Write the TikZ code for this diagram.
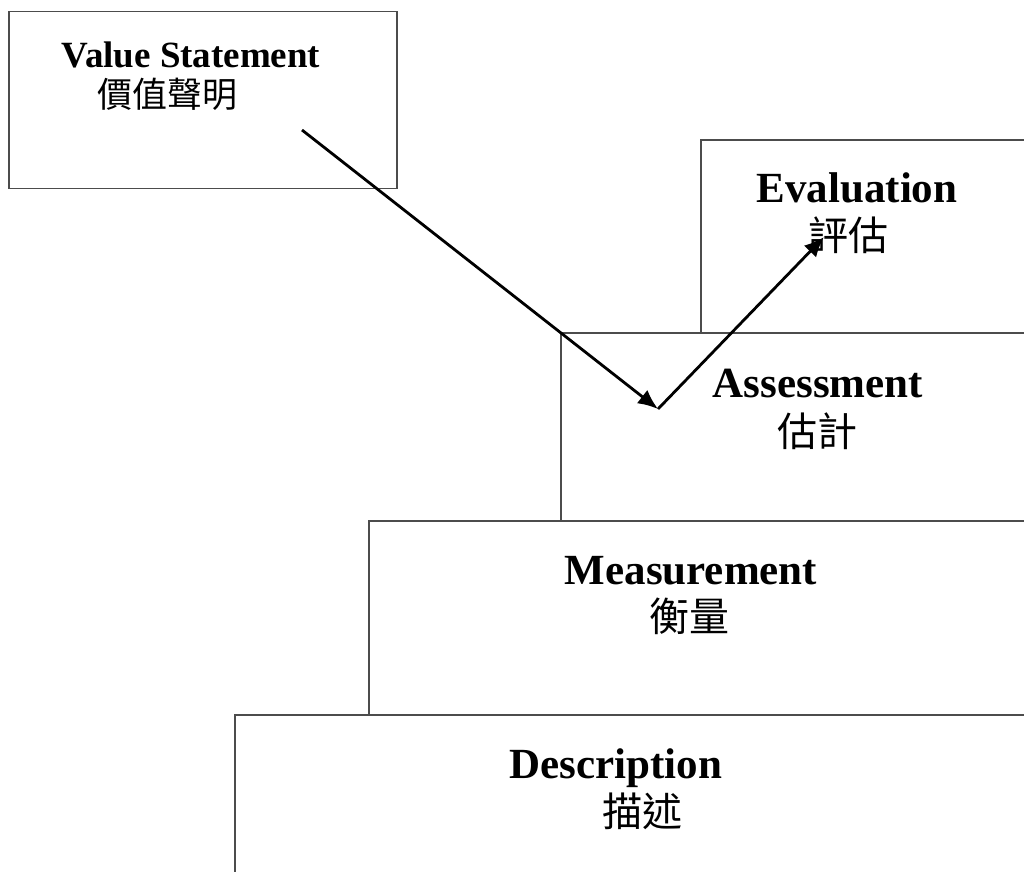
\documentclass[tikz,border=0pt]{standalone}
\usepackage{fontspec}
\setmainfont{Liberation Serif}
\newfontfamily\cjk{Noto Sans CJK TC}
\usetikzlibrary{arrows.meta}

\begin{document}
\begin{tikzpicture}[x=1pt, y=-1pt,
    box/.style={draw=black!70, line width=1.3pt, inner sep=0pt},
    title/.style={anchor=base, inner sep=0pt, font=\fontsize{43}{46}\selectfont\bfseries},
    hanzi/.style={inner sep=0pt, font=\fontsize{40}{44}\selectfont\cjk},
    link/.style={line width=2.8pt, -{Latex[length=20pt,width=17pt]}}]
    \useasboundingbox (0,0) rectangle (1024,871);
    \clip (0,0) rectangle (1024,871);

    % Steps, from the bottom one up
    \node[box, minimum width=805, minimum height=185] (descbox) at (637.5,807.5) {};
    \node[box, minimum width=671, minimum height=194] (measbox) at (704.5,618) {};
    \node[box, minimum width=479, minimum height=188] (assessbox) at (800.5,427) {};
    \node[box, minimum width=339, minimum height=193] (evalbox) at (870.5,236.5) {};
    \node[box, minimum width=388, minimum height=177] (valuebox) at (203,100) {};

    % Labels
    \node[title] (desc) at (616,778) {Description};
    \node[hanzi] (desczh) at (642,811) {描述};
    \node[title] (meas) at (691,584) {Measurement};
    \node[hanzi] (measzh) at (689,616) {衡量};
    \node[title] (assess) at (818,397) {Assessment};
    \node[hanzi] (assesszh) at (817,431) {估計};
    \node[title] (eval) at (857,202) {Evaluation};
    \node[hanzi] (evalzh) at (848,235) {評估};
    \node[title, font=\fontsize{37}{40}\selectfont\bfseries] (value) at (191,67) {Value Statement};
    \node[hanzi, font=\fontsize{35}{40}\selectfont\cjk] (valuezh) at (167,94) {價值聲明};

    % Down into assessment, then up to evaluation
    \coordinate (start) at (302,130);
    \coordinate (dip) at (658,409);
    \coordinate (goal) at (824,237);
    \draw[link] (start) -- (dip);
    \draw[link] (dip) -- (goal);
\end{tikzpicture}
\end{document}
